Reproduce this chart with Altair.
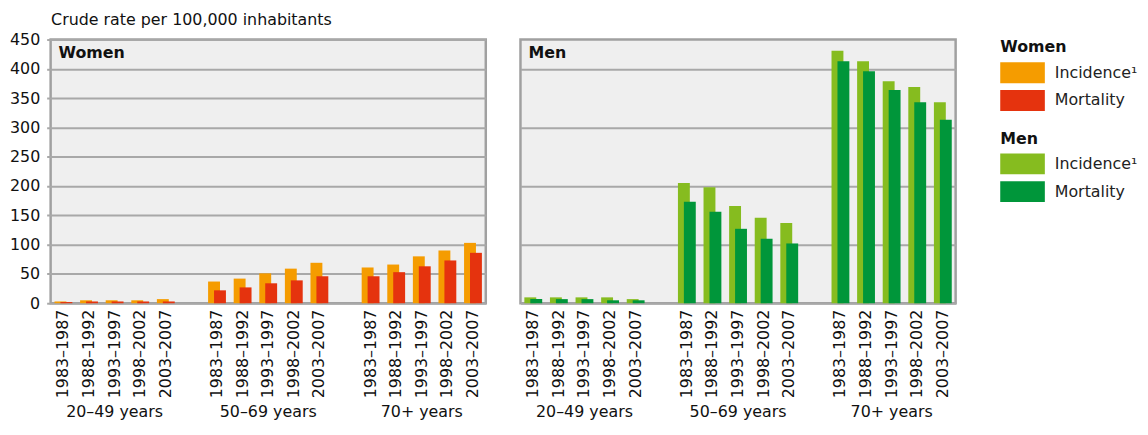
import altair as alt
import pandas as pd

periods = ["1983–1987", "1988–1992", "1993–1997", "1998–2002", "2003–2007"]
age_groups = ["20–49 years", "50–69 years", "70+ years"]
measures = ["Incidence¹", "Mortality"]

women_incidence = [3, 5, 5, 5, 7, 37, 42, 51, 59, 69, 61, 66, 80, 90, 103]
women_mortality = [2, 3, 3, 3, 3, 22, 27, 34, 39, 46, 46, 53, 63, 73, 86]
men_incidence = [10, 10, 10, 10, 7, 205, 198, 166, 146, 137, 431, 413, 379, 369, 343]
men_mortality = [7, 7, 7, 5, 5, 173, 156, 127, 110, 102, 413, 396, 364, 343, 313]

y_ticks = [0, 50, 100, 150, 200, 250, 300, 350, 400, 450]

women_colors = ["#f59c00", "#e5330e"]
men_colors = ["#86bc1f", "#00963a"]

FONT = "DejaVu Sans"
W, H = 439, 266

slots = []
for i, a in enumerate(age_groups):
    if i > 0:
        slots.append(f"gap{i}")
    for p in periods:
        slots.append(f"{a}|{p}")


def frame(inc, mort):
    rows = []
    for i, a in enumerate(age_groups):
        for j, p in enumerate(periods):
            k = i * 5 + j
            rows.append(dict(slot=f"{a}|{p}", measure=measures[0], value=inc[k]))
            rows.append(dict(slot=f"{a}|{p}", measure=measures[1], value=mort[k]))
    return pd.DataFrame(rows)


age_df = pd.DataFrame({"slot": [f"{a}|{periods[2]}" for a in age_groups], "label": age_groups})

x_enc = alt.X(
    "slot:N",
    scale=alt.Scale(domain=slots, paddingInner=0, paddingOuter=0),
    axis=alt.Axis(
        title=None,
        labelExpr="indexof(datum.value, '|') > 0 ? split(datum.value, '|')[1] : ''",
        labelAngle=-90,
        ticks=False,
        domain=False,
        grid=False,
        labelFontSize=16,
        labelPadding=6,
    ),
)


def panel(df, colors, name, left, legend):
    if left:
        yaxis = alt.Axis(
            values=y_ticks,
            title="Crude rate per 100,000 inhabitants",
            titleAngle=0,
            titleAlign="left",
            titleBaseline="middle",
            titleX=0,
            titleY=-20,
            titleFontWeight="normal",
            titleFontSize=16,
            labelFontSize=16,
            labelPadding=7,
            tickSize=4,
            tickWidth=2,
            tickColor="#a8a8a8",
            domain=False,
        )
    else:
        yaxis = alt.Axis(values=y_ticks, title=None, labels=False, ticks=False, domain=False)
    y_enc = alt.Y("value:Q", scale=alt.Scale(domain=[0, 450], nice=False), axis=yaxis)
    cscale = alt.Scale(domain=measures, range=colors)
    base = alt.Chart(df)
    inc = base.transform_filter(alt.datum.measure == measures[0]).mark_bar(width=12, xOffset=-3).encode(
        x=x_enc, y=y_enc, color=alt.Color("measure:N", scale=cscale, legend=legend)
    )
    mort = base.transform_filter(alt.datum.measure == measures[1]).mark_bar(width=12, xOffset=3).encode(
        x=x_enc, y=y_enc, color=alt.Color("measure:N", scale=cscale, legend=legend)
    )
    bars = alt.layer(inc, mort)
    title = alt.Chart(pd.DataFrame({"t": [name]})).mark_text(
        align="left", baseline="middle", fontWeight="bold", fontSize=16, color="#111"
    ).encode(x=alt.value(8), y=alt.value(14), text="t:N")
    ages = alt.Chart(age_df).mark_text(baseline="middle", fontSize=16, color="#111").encode(
        x=x_enc, y=alt.value(376), text="label:N"
    )
    return bars, title, ages


LEG_OFFSET = 45

wb, wt, wa = panel(frame(women_incidence, women_mortality), women_colors, "Women", True, None)
left = alt.layer(wb, wt, wa).properties(width=W, height=H)

# legend-only layer for women colours inside the right panel
dummy = alt.Chart(frame(women_incidence, women_mortality)).mark_bar(width=12, opacity=0).encode(
    x=x_enc,
    y=alt.Y("value:Q", scale=alt.Scale(domain=[0, 450], nice=False)),
    color=alt.Color(
        "measure:N",
        scale=alt.Scale(domain=measures, range=women_colors),
        legend=alt.Legend(title="Women", symbolOpacity=1, offset=LEG_OFFSET),
    ),
)
mb, mt, ma = panel(
    frame(men_incidence, men_mortality), men_colors, "Men", False,
    alt.Legend(title=[" ", "Men"], titleLineHeight=12, offset=LEG_OFFSET),
)
right = alt.layer(dummy, mb, mt, ma).resolve_scale(color="independent").properties(width=W, height=H)

chart = (
    alt.hconcat(left, right, spacing=31)
    .resolve_scale(color="independent")
    .properties(padding={"left": 0, "top": 0, "right": 0, "bottom": -2})
    .configure(font=FONT)
    .configure_view(stroke="#a0a0a0", strokeWidth=2.5, fill="#efefef")
    .configure_axis(
        gridColor="#a8a8a8",
        gridWidth=2,
        labelColor="#111",
        titleColor="#111",
        labelFont=FONT,
        titleFont=FONT,
    )
    .configure_legend(
        orient="right",
        padding=0,
        titleFontSize=16,
        titleFontWeight="bold",
        titleColor="#111",
        titleFont=FONT,
        titlePadding=7,
        labelFontSize=16,
        labelColor="#222",
        labelFont=FONT,
        labelOffset=34,
        symbolType="M-1,-1H3.286V1H-1Z",
        symbolSize=441,
        symbolStrokeWidth=0,
        rowPadding=7,
    )
)

chart.save("out.html", embed_options={"renderer": "svg", "actions": False})
